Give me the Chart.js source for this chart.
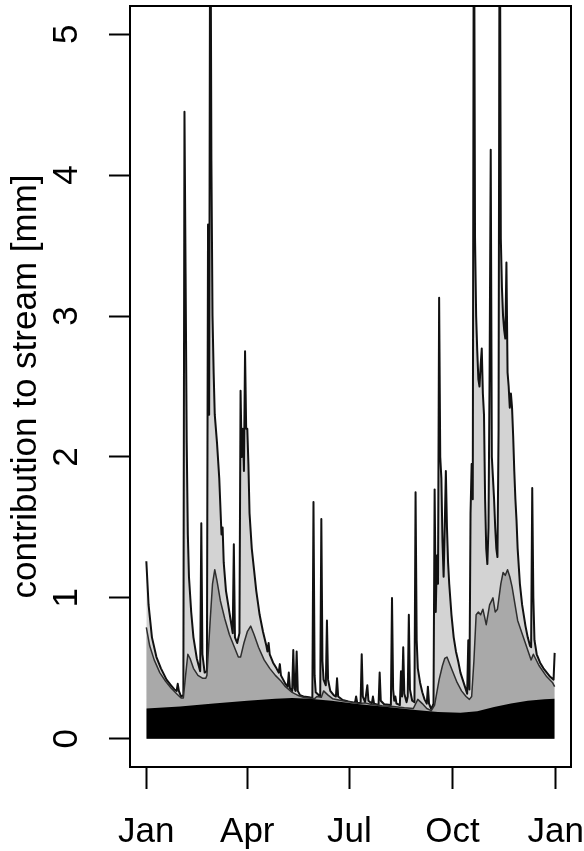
<!DOCTYPE html>
<html>
<head>
<meta charset="utf-8">
<script src="https://cdn.jsdelivr.net/npm/chart.js@4/dist/chart.umd.min.js"></script>
<style>
  html, body { margin: 0; padding: 0; background: #fff; }
  #wrap { width: 584px; height: 851px; }
</style>
</head>
<body>
<div id="wrap"><canvas id="flow-chart" width="584" height="851"></canvas></div>
<script>
// x positions are day of year (0 = 1 Jan)
const tickDays = [0, 90, 181, 273, 365];
const monthLabels = ["Jan", "Apr", "Jul", "Oct", "Jan"];
const yTicks = [0, 1, 2, 3, 4, 5];

// black layer (baseflow), top edge
const baseDays = [0, 30, 60, 90, 115, 130, 145, 165, 190, 215, 240, 260, 280, 295, 310, 325, 340, 355, 364];
const baseTop = [0.215, 0.23, 0.25, 0.27, 0.285, 0.29, 0.285, 0.27, 0.245, 0.225, 0.205, 0.19, 0.185, 0.195, 0.225, 0.25, 0.27, 0.28, 0.285];

// dark grey layer, top edge
const interDays = [
  0, 3, 7, 12, 17, 22, 27, 31, 33, 35, 37, 39, 42, 46, 50, 53, 54, 57, 59, 61,
  63, 66, 70, 74, 78, 82, 84, 87, 90, 93, 96, 100, 105, 110, 115, 120, 124, 130, 136, 140,
  150, 152, 156, 158, 162, 166, 175, 190, 195, 200, 210, 220, 230, 238, 242, 246, 250, 254, 257, 261,
  264, 266, 268, 270, 273, 277, 281, 285, 288, 290, 292, 294, 296, 298, 300, 303, 306, 309, 311, 313,
  316, 318, 320, 322, 324, 326, 331, 337, 343, 345, 350, 357, 362, 364,
];
const interTop = [
  0.79, 0.66, 0.56, 0.47, 0.41, 0.36, 0.32, 0.29, 0.29, 0.45, 0.6, 0.57, 0.5, 0.45, 0.43, 0.43, 0.45, 0.85, 1.1, 1.2,
  1.12, 0.98, 0.85, 0.74, 0.66, 0.58, 0.58, 0.68, 0.76, 0.8, 0.74, 0.65, 0.56, 0.5, 0.45, 0.41, 0.37, 0.33, 0.305, 0.295,
  0.285, 0.3, 0.295, 0.34, 0.31, 0.285, 0.27, 0.25, 0.255, 0.245, 0.235, 0.23, 0.22, 0.215, 0.28, 0.25, 0.215, 0.2, 0.24, 0.42,
  0.52, 0.57, 0.58, 0.54, 0.48, 0.4, 0.34, 0.3, 0.28, 0.3, 0.55, 0.88, 0.9, 0.88, 0.92, 0.81, 0.95, 1.0, 0.9, 0.92,
  1.1, 1.18, 1.16, 1.2, 1.15, 1.08, 0.84, 0.7, 0.56, 0.6, 0.52, 0.44, 0.4, 0.37,
];

// light grey layer, top edge = total contribution
const totalDays = [
  0, 2, 5, 9, 13, 18, 22, 25, 27, 28, 29, 31, 33, 34, 35, 36, 37, 38, 40, 42,
  45, 48, 49, 50, 52, 54, 55, 56, 57, 58, 59, 60, 61, 63, 65, 67, 68, 69, 71, 73,
  75, 77, 78, 79, 81, 83, 84, 85, 86, 87, 88, 89, 90, 91, 92, 94, 96, 98, 101, 104,
  107, 108, 109, 110, 113, 116, 118, 119, 120, 122, 124, 126, 127, 128, 130, 131, 132, 133, 134, 135,
  137, 140, 145, 148, 149, 150, 151, 155, 156, 157, 158, 160, 161, 162, 164, 167, 169, 170, 171, 175,
  180, 186, 187, 188, 191, 192, 193, 195, 197, 198, 201, 202, 203, 207, 208, 209, 212, 218, 219, 220,
  221, 222, 223, 226, 227, 228, 229, 230, 232, 233, 234, 235, 237, 239, 240, 241, 242, 244, 246, 248,
  250, 251, 252, 254, 256, 257, 258, 259, 260, 261, 262, 263, 264, 265, 266, 267, 268, 269, 270, 272,
  274, 276, 278, 280, 282, 284, 286, 287, 288, 289, 290, 291, 292, 293, 294, 295, 296, 297, 298, 299,
  300, 301, 302, 303, 304, 305, 306, 307, 308, 309, 310, 311, 312, 313, 314, 315, 316, 317, 318, 319,
  320, 321, 322, 323, 324, 325, 326, 327, 328, 329, 330, 331, 333, 335, 338, 340, 342, 343, 344, 345,
  346, 348, 351, 354, 357, 360, 363, 364,
];
const totalFlow = [
  1.26, 0.95, 0.72, 0.58, 0.5, 0.42, 0.38, 0.35, 0.34, 0.39, 0.34, 0.3, 0.31, 4.45, 3.3, 2.1, 1.45, 1.15, 0.9, 0.72,
  0.57, 0.48, 1.53, 0.6, 0.47, 0.48, 3.65, 2.3, 6.5, 4.1, 3.0, 2.6, 2.3, 2.1, 1.85, 1.45, 1.5, 1.25, 1.05, 0.95,
  0.85, 0.75, 1.38, 0.72, 0.68, 0.75, 2.47, 2.0, 2.2, 1.9, 2.75, 2.2, 2.2, 1.95, 1.6, 1.35, 1.2, 1.05, 0.88, 0.76,
  0.66, 0.62, 0.68, 0.6, 0.54, 0.5, 0.47, 0.53, 0.45, 0.42, 0.39, 0.37, 0.47, 0.36, 0.34, 0.63, 0.36, 0.34, 0.62, 0.34,
  0.31, 0.3, 0.295, 0.29, 1.68, 0.45, 0.33, 0.3, 1.56, 0.55, 0.42, 0.38, 0.84, 0.42, 0.34, 0.31, 0.3, 0.43, 0.3, 0.275,
  0.265, 0.255, 0.3, 0.255, 0.255, 0.6, 0.3, 0.26, 0.38, 0.27, 0.25, 0.3, 0.25, 0.24, 0.47, 0.27, 0.245, 0.24, 1.0, 0.35,
  0.27, 0.3, 0.25, 0.24, 0.48, 0.3, 0.65, 0.32, 0.26, 0.3, 0.88, 0.35, 0.27, 0.26, 1.75, 0.7, 0.5, 0.4, 0.33, 0.28,
  0.25, 0.37, 0.25, 0.21, 0.25, 1.77, 0.9, 1.3, 1.1, 3.13, 2.0, 1.85, 1.4, 1.15, 1.5, 1.9, 1.5, 1.25, 1.1, 0.88,
  0.72, 0.62, 0.55, 0.47, 0.42, 0.37, 0.32, 0.7, 0.35, 1.6, 1.95, 1.7, 6.5, 3.56, 3.0, 2.75, 2.55, 2.5, 2.65, 2.77,
  2.45, 2.3, 1.7, 1.35, 1.24, 1.5, 2.6, 4.18, 2.0, 1.85, 1.7, 1.5, 1.35, 1.29, 2.2, 6.5, 3.55, 3.2, 3.0, 2.9,
  2.84, 3.38, 2.6, 2.5, 2.35, 2.45, 2.35, 2.15, 1.9, 1.7, 1.55, 1.35, 1.1, 0.95, 0.8, 0.72, 0.66, 0.65, 1.78, 1.0,
  0.7, 0.6, 0.54, 0.5, 0.47, 0.44, 0.42, 0.61,
];

const FONT = "'Liberation Sans', Arial, Helvetica, sans-serif";
const FONT_SIZE = 35;

function toPoints(days, values) {
  return days.map((d, i) => ({ x: d, y: values[i] }));
}

// stop the axes from reserving room for overhanging labels
function fixAxis(scale, size) {
  if (scale.isHorizontal()) scale.height = size;
  else scale.width = size;
  scale.paddingTop = 0;
  scale.paddingBottom = 0;
  scale.paddingLeft = 0;
  scale.paddingRight = 0;
}

const plotBox = {
  id: "plotBox",
  afterDraw(chart) {
    const { ctx, chartArea: a } = chart;
    ctx.save();
    ctx.strokeStyle = "#000";
    ctx.lineWidth = 2;
    ctx.strokeRect(a.left, a.top, a.right - a.left, a.bottom - a.top);
    ctx.restore();
  },
};

new Chart(document.getElementById("flow-chart"), {
  type: "line",
  data: {
    datasets: [
      {
        label: "base",
        data: toPoints(baseDays, baseTop),
        fill: "origin",
        backgroundColor: "#000",
        borderColor: "#000",
        borderWidth: 0,
      },
      {
        label: "inter",
        data: toPoints(interDays, interTop),
        fill: "origin",
        backgroundColor: "#a9a9a9",
        borderColor: "#2e2e2e",
        borderWidth: 1.5,
      },
      {
        label: "total",
        data: toPoints(totalDays, totalFlow),
        fill: "origin",
        backgroundColor: "#d3d3d3",
        borderColor: "#111",
        borderWidth: 2,
      },
    ],
  },
  options: {
    responsive: false,
    animation: false,
    events: [],
    layout: { padding: { left: 0, right: 13, top: 6, bottom: 0 } },
    elements: {
      point: { radius: 0 },
      line: { tension: 0, borderJoinStyle: "round" },
    },
    plugins: { legend: { display: false }, tooltip: { enabled: false } },
    scales: {
      x: {
        type: "linear",
        min: -14.56,
        max: 378.56,
        afterBuildTicks: (scale) => { scale.ticks = tickDays.map((v) => ({ value: v })); },
        afterFit: (scale) => fixAxis(scale, 84),
        border: { display: false },
        grid: { drawOnChartArea: false, tickLength: 22, tickColor: "#000", tickWidth: 2 },
        ticks: {
          autoSkip: false,
          maxRotation: 0,
          padding: 22,
          color: "#000",
          font: { family: FONT, size: FONT_SIZE },
          callback: (v) => monthLabels[tickDays.indexOf(v)],
        },
      },
      y: {
        min: -0.2,
        max: 5.2,
        afterBuildTicks: (scale) => { scale.ticks = yTicks.map((v) => ({ value: v })); },
        afterFit: (scale) => fixAxis(scale, 130),
        border: { display: false },
        grid: { drawOnChartArea: false, tickLength: 21, tickColor: "#000", tickWidth: 2 },
        ticks: {
          minRotation: 90,
          maxRotation: 90,
          crossAlign: "center",
          padding: 32,
          color: "#000",
          font: { family: FONT, size: FONT_SIZE },
          callback: (v) => String(v),
        },
        title: {
          display: true,
          text: "contribution to stream [mm]",
          color: "#000",
          font: { family: FONT, size: FONT_SIZE },
          padding: { top: 5, bottom: 0 },
        },
      },
    },
  },
  plugins: [plotBox],
});
</script>
</body>
</html>
